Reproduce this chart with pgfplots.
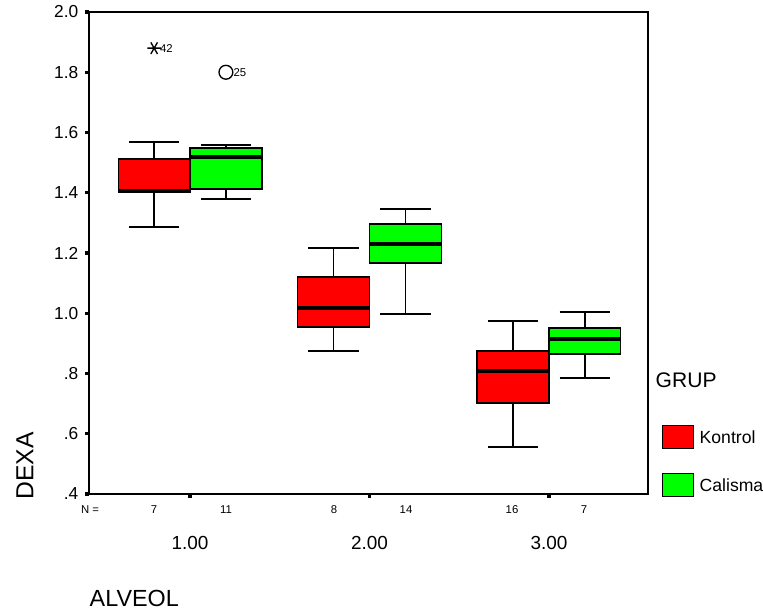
\documentclass[border=0pt]{standalone}
\usepackage{fontspec}
\setmainfont{Liberation Sans}
\usepackage{pgfplots}
\pgfplotsset{compat=1.18}
\usepgfplotslibrary{statistics}
\definecolor{spssred}{RGB}{255,0,0}
\definecolor{spssgreen}{RGB}{0,255,0}
\begin{document}
\begin{tikzpicture}
\begin{axis}[
  at={(66.75pt,88.5pt)}, anchor=south west,
  scale only axis, width=419.25pt, height=361.5pt,
  xmin=0.437, xmax=3.552, ymin=0.4, ymax=2.0,
  xtick={1,2,3}, xticklabels={1.00,2.00,3.00},
  ytick={0.4,0.6,0.8,1.0,1.2,1.4,1.6,1.8,2.0},
  yticklabels={.4,.6,.8,1.0,1.2,1.4,1.6,1.8,2.0},
  tick align=outside, tick pos=left,
  major tick length=3pt,
  tick style={line width=2.4pt, black},
  axis line style={line width=1.1pt},
  /pgf/number format/assume math mode=true,
  yticklabel style={font=\fontsize{13}{15}\selectfont, xshift=-1.5pt},
  xticklabel style={font=\fontsize{14.2}{17}\selectfont, yshift=-25pt},
  boxplot/draw direction=y,
  boxplot/box extend=0.4,
  boxplot/whisker extend=0.28,
  boxplot/every median/.style={line width=3.3pt},
  clip=false,
]
% Kontrol
\addplot[boxplot prepared={draw direction=y, draw position=0.8, lower whisker=1.286, lower quartile=1.402, median=1.405, upper quartile=1.512, upper whisker=1.569}, draw=black, fill=spssred, line width=1.1pt] coordinates {};
\addplot[boxplot prepared={draw direction=y, draw position=1.8, lower whisker=0.875, lower quartile=0.954, median=1.017, upper quartile=1.120, upper whisker=1.217}, draw=black, fill=spssred, line width=1.1pt] coordinates {};
\addplot[boxplot prepared={draw direction=y, draw position=2.8, lower whisker=0.556, lower quartile=0.702, median=0.808, upper quartile=0.875, upper whisker=0.974}, draw=black, fill=spssred, line width=1.1pt] coordinates {};
% Calisma
\addplot[boxplot prepared={draw direction=y, draw position=1.2, lower whisker=1.379, lower quartile=1.412, median=1.519, upper quartile=1.549, upper whisker=1.558}, draw=black, fill=spssgreen, line width=1.1pt] coordinates {};
\addplot[boxplot prepared={draw direction=y, draw position=2.2, lower whisker=0.998, lower quartile=1.167, median=1.230, upper quartile=1.296, upper whisker=1.346}, draw=black, fill=spssgreen, line width=1.1pt] coordinates {};
\addplot[boxplot prepared={draw direction=y, draw position=3.2, lower whisker=0.785, lower quartile=0.865, median=0.915, upper quartile=0.951, upper whisker=1.004}, draw=black, fill=spssgreen, line width=1.1pt] coordinates {};
% outliers
\addplot[only marks, mark=asterisk, mark size=5pt, mark options={rotate=90, line width=1pt, black}] coordinates {(0.8,1.88)};
\addplot[only marks, mark=o, mark size=5.2pt, mark options={line width=1pt, black}] coordinates {(1.2,1.80)};
\node[anchor=west, inner sep=0pt, xshift=4.3pt, font=\fontsize{8.5}{10}\selectfont] at (axis cs:0.8,1.88) {42};
\node[anchor=west, inner sep=0pt, xshift=5.5pt, font=\fontsize{8.5}{10}\selectfont] at (axis cs:1.2,1.80) {25};
\end{axis}
\begin{scope}[x=0.75pt, y=-0.75pt, yshift=459pt]
 \node[font=\fontsize{8.5}{10}\selectfont] at (90,510) {N =};
 \foreach \x/\n in {154/7, 226/11, 334/8, 406/14, 512/16, 584/7}
   \node[font=\fontsize{8.5}{10}\selectfont] at (\x,510) {\n};
 \node[anchor=west, font=\fontsize{15.8}{19}\selectfont] at (651,380) {GRUP};
 \draw[fill=spssred, line width=0.6pt] (662,425) rectangle (693,448);
 \node[anchor=west, font=\fontsize{13.2}{16}\selectfont] at (695,437) {Kontrol};
 \draw[fill=spssgreen, line width=0.6pt] (662,473) rectangle (693,496);
 \node[anchor=west, font=\fontsize{13.2}{16}\selectfont] at (695,485) {Calisma};
 \node[rotate=90, font=\fontsize{18.5}{22}\selectfont] at (25,466) {DEXA};
 \node[anchor=west, font=\fontsize{17.5}{21}\selectfont] at (85,598) {ALVEOL};
\end{scope}
\pgfresetboundingbox
\useasboundingbox (0,0) rectangle (572.25pt,459pt);
\end{tikzpicture}
\end{document}
